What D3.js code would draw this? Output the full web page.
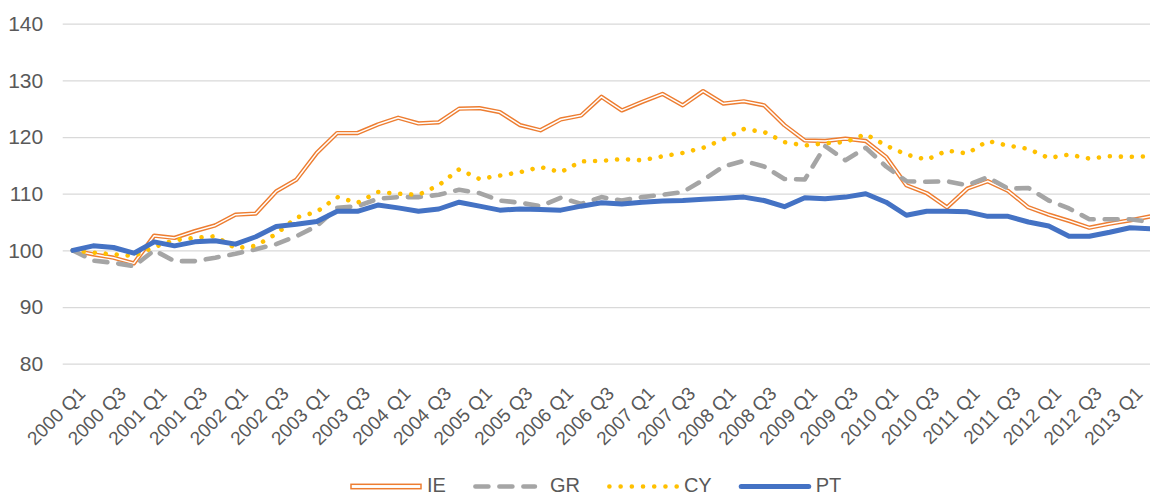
<!DOCTYPE html>
<html lang="en">
	<head>
		<meta charset="utf-8">
		<title>IE GR CY PT index</title>
		<script src="https://d3js.org/d3.v7.min.js" charset="utf-8"></script>
		<style type="text/css">
		body { margin: 0; background: #fff; }
		.tick-text {
		font-family: "Liberation Sans", Arial, Helvetica, sans-serif;
		font-size: 21px;
		fill: #595959;
		}
		.x-text {
		font-family: "Liberation Sans", Arial, Helvetica, sans-serif;
		font-size: 19px;
		fill: #595959;
		}
		.legend-text {
		font-family: "Liberation Sans", Arial, Helvetica, sans-serif;
		font-size: 20px;
		fill: #595959;
		}
		</style>
	</head>

	<body>
		<div id="chart"></div>

		<script>
			var width = 1150;
			var height = 497;

			// quarters on the category axis
			var quarters = [
				"2000 Q1","2000 Q2","2000 Q3","2000 Q4","2001 Q1","2001 Q2","2001 Q3","2001 Q4",
				"2002 Q1","2002 Q2","2002 Q3","2002 Q4","2003 Q1","2003 Q2","2003 Q3","2003 Q4",
				"2004 Q1","2004 Q2","2004 Q3","2004 Q4","2005 Q1","2005 Q2","2005 Q3","2005 Q4",
				"2006 Q1","2006 Q2","2006 Q3","2006 Q4","2007 Q1","2007 Q2","2007 Q3","2007 Q4",
				"2008 Q1","2008 Q2","2008 Q3","2008 Q4","2009 Q1","2009 Q2","2009 Q3","2009 Q4",
				"2010 Q1","2010 Q2","2010 Q3","2010 Q4","2011 Q1","2011 Q2","2011 Q3","2011 Q4",
				"2012 Q1","2012 Q2","2012 Q3","2012 Q4","2013 Q1","2013 Q2"
			];

			var yTicks = [80, 90, 100, 110, 120, 130, 140];

			var ieValues = [100, 99.3, 98.7, 97.7, 102.6, 102.2, 103.4, 104.4, 106.3, 106.5,
				110.4, 112.5, 117.2, 120.7, 120.7, 122.2, 123.4, 122.4, 122.6, 125.0,
				125.1, 124.4, 122.1, 121.2, 123.1, 123.8, 127.1, 124.7, 126.2, 127.6,
				125.6, 128.1, 125.9, 126.3, 125.6, 122.1, 119.4, 119.3, 119.7, 119.3,
				116.5, 111.5, 110.1, 107.6, 110.9, 112.2, 110.5, 107.6, 106.3, 105.2,
				104.0, 104.7, 105.3, 106.0];

			var grValues = [100, 98.2, 97.8, 97.2, 100.0, 98.1, 98.1, 98.7, 99.4, 100.2,
				101.1, 102.5, 104.3, 107.5, 107.8, 109.1, 109.4, 109.4, 109.8, 110.7,
				110.1, 108.8, 108.4, 107.8, 109.3, 108.2, 109.4, 108.8, 109.4, 109.8,
				110.3, 112.4, 114.8, 115.8, 114.8, 112.6, 112.5, 118.4, 115.9, 118.1,
				114.8, 112.2, 112.1, 112.2, 111.5, 112.9, 110.9, 111.0, 108.8, 107.4,
				105.5, 105.5, 105.5, 105.0];

			var cyValues = [100, 99.6, 99.3, 99.0, 100.6, 101.8, 102.2, 102.5, 100.4, 100.8,
				102.9, 105.8, 106.8, 109.4, 108.4, 110.3, 110.0, 109.8, 111.5, 114.3,
				112.6, 113.2, 113.8, 114.7, 113.8, 115.7, 115.8, 116.1, 115.9, 116.6,
				117.2, 118.1, 119.6, 121.4, 120.9, 119.1, 118.5, 118.9, 119.1, 120.5,
				118.5, 116.9, 116.0, 117.6, 117.1, 119.3, 118.5, 117.9, 116.3, 116.9,
				116.2, 116.6, 116.5, 116.6];

			var ptValues = [100, 100.8, 100.5, 99.5, 101.5, 100.8, 101.5, 101.7, 101.1, 102.4,
				104.2, 104.6, 105.1, 106.9, 106.9, 108.0, 107.5, 106.9, 107.3, 108.5,
				107.8, 107.1, 107.3, 107.2, 107.1, 107.8, 108.4, 108.2, 108.5, 108.7,
				108.8, 109.0, 109.2, 109.4, 108.8, 107.7, 109.3, 109.1, 109.4, 110.0,
				108.5, 106.2, 106.9, 106.9, 106.8, 106.0, 106.0, 105.0, 104.3, 102.5,
				102.5, 103.2, 104.0, 103.8];

			var seriesNames = ["IE", "GR", "CY", "PT"];
			var seriesColors = ["#ED7D31", "#A5A5A5", "#FFC000", "#4472C4"];

			var plotLeft = 62.7;
			var band = 20.33;
			var plotRight = plotLeft + band * quarters.length;
			var plotTop = 23.7;
			var plotBottom = 363.7;

			var svg = d3.select("div#chart")
						.append("svg")
						.attr("width", width)
						.attr("height", height);

			var x = d3.scaleBand()
						.domain(quarters)
						.range([plotLeft, plotRight])
						.padding(0);

			var y = d3.scaleLinear()
						.domain([80, 140])
						.range([plotBottom, plotTop]);

			function xc(d, i) { return x(quarters[i]) + x.bandwidth() / 2; }

//gridlines + y labels
			var yAxis = svg.append("g")
						.attr("transform", "translate(" + plotLeft + ",0)")
						.call(d3.axisLeft(y)
							.tickValues(yTicks)
							.tickSize(-(plotRight - plotLeft))
							.tickPadding(19.5)
							.tickFormat(d3.format("d")));
			yAxis.select(".domain").remove();
			yAxis.selectAll("line")
				.attr("stroke", "#D9D9D9")
				.attr("stroke-width", 1.3);
			yAxis.selectAll("text")
				.attr("class", "tick-text")
				.attr("font-size", null)
				.attr("font-family", null);

//x labels
			svg.append("g")
				.selectAll("text")
				.data(quarters.filter(function(d, i) { return i % 2 === 0; }))
				.enter().append("text")
				.attr("class", "x-text")
				.attr("text-anchor", "end")
				.attr("dy", "0.35em")
				.attr("transform", function(d) {
					return "translate(" + (x(d) + x.bandwidth() / 2 + 9) + ",390) rotate(-45)";
				})
				.text(function(d) { return d; });

//lines
			var line = d3.line()
						.x(xc)
						.y(function(d) { return y(d); });

			var lines = svg.append("g").attr("fill", "none");

			lines.append("path")
				.attr("d", line(ieValues))
				.attr("stroke", seriesColors[0])
				.attr("stroke-width", 4.3)
				.attr("stroke-linejoin", "round");
			lines.append("path")
				.attr("d", line(ieValues))
				.attr("stroke", "#fff")
				.attr("stroke-width", 1.5)
				.attr("stroke-linejoin", "round");

			lines.append("path")
				.attr("d", line(grValues))
				.attr("stroke", seriesColors[1])
				.attr("stroke-width", 4.6)
				.attr("stroke-dasharray", "13,11")
				.attr("stroke-linecap", "round")
				.attr("stroke-linejoin", "round");

			lines.append("path")
				.attr("d", line(cyValues))
				.attr("stroke", seriesColors[2])
				.attr("stroke-width", 4.6)
				.attr("stroke-dasharray", "0.01,11")
				.attr("stroke-linecap", "round")
				.attr("stroke-linejoin", "round");

			lines.append("path")
				.attr("d", line(ptValues))
				.attr("stroke", seriesColors[3])
				.attr("stroke-width", 5)
				.attr("stroke-linecap", "round")
				.attr("stroke-linejoin", "round");

//legend
			var legend = svg.append("g").attr("transform", "translate(0,486.5)");
			var lx = 350;
			seriesNames.forEach(function(name, i) {
				var item = legend.append("g");
				if (i === 0) {
					item.append("rect")
						.attr("x", lx + 1).attr("y", -2.2)
						.attr("width", 70).attr("height", 4.4)
						.attr("fill", "#fff")
						.attr("stroke", seriesColors[0])
						.attr("stroke-width", 1.5);
				} else {
					var p = item.append("line")
						.attr("x1", lx + 2.5).attr("x2", lx + 70)
						.attr("y1", 0).attr("y2", 0)
						.attr("stroke", seriesColors[i])
						.attr("stroke-width", i === 3 ? 5 : 4.6)
						.attr("stroke-linecap", "round");
					if (i === 1) p.attr("stroke-dasharray", "13,11").attr("x2", lx + 62);
					if (i === 2) p.attr("stroke-dasharray", "0.01,11.2");
				}
				var t = item.append("text")
						.attr("class", "legend-text")
						.attr("x", lx + 77)
						.attr("y", -1.5)
						.attr("dy", "0.35em")
						.text(name);
				lx = lx + 77 + t.node().getComputedTextLength() + 27;
			});

		</script>
	</body>
</html>
